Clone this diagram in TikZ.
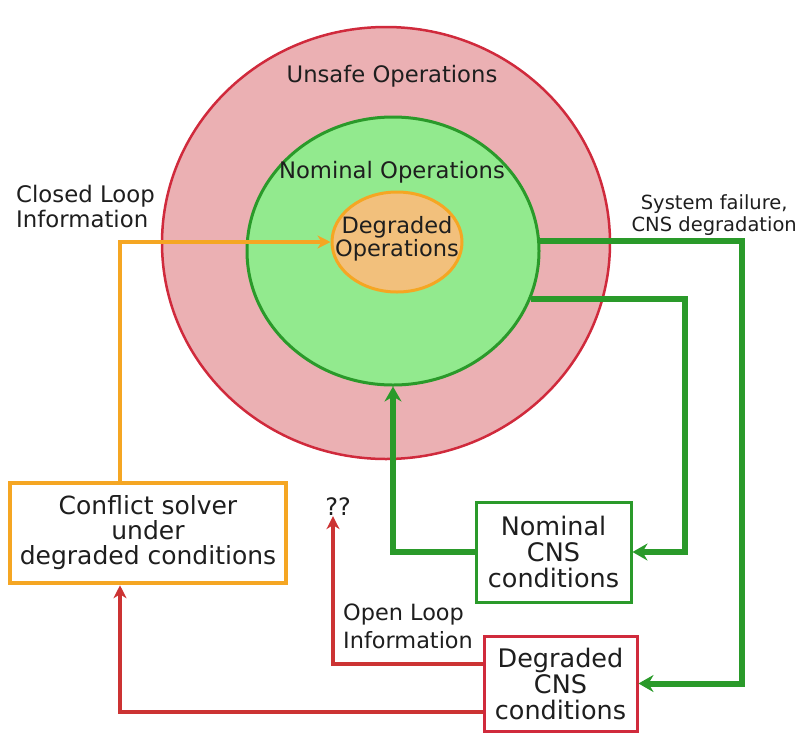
\documentclass[tikz,border=0pt]{standalone}
\usepackage{fontspec}
\setmainfont{DejaVu Sans}
\usetikzlibrary{arrows.meta,shapes.geometric}

\definecolor{unsafefill}{HTML}{EBB0B3}
\definecolor{unsafeline}{HTML}{D02A3C}
\definecolor{nomfill}{HTML}{92EA8E}
\definecolor{nomline}{HTML}{2A9A2A}
\definecolor{degfill}{HTML}{F2C07C}
\definecolor{degline}{HTML}{F5A623}
\definecolor{redflow}{HTML}{CC3333}
\definecolor{txt}{HTML}{1E1E1E}

\tikzset{
  zone/.style={ellipse, inner sep=0pt, text=txt},
  boxnode/.style={rectangle, inner sep=0pt, fill=white, text=txt, align=center},
  lbl/.style={inner sep=0pt, text=txt},
  greenflow/.style={-{Stealth[length=15pt,width=17pt,inset=5pt]}, draw=nomline, line width=6pt},
  orangeflow/.style={-{Stealth[length=13pt,width=13pt,inset=4pt]}, draw=degline, line width=4pt},
  redflowline/.style={-{Stealth[length=13pt,width=13pt,inset=4pt]}, draw=redflow, line width=4pt},
}

\begin{document}
\begin{tikzpicture}[x=1pt, y=-1pt]
\useasboundingbox (0,0) rectangle (797,737);

% nested operating regimes
\node[zone, draw=unsafeline, fill=unsafefill, line width=2.5pt,
      minimum width=448pt, minimum height=432pt] (unsafe) at (386,243) {};
\node[zone, draw=nomline, fill=nomfill, line width=3pt,
      minimum width=292pt, minimum height=268pt] (nominal) at (393,251) {};
\node[zone, draw=degline, fill=degfill, line width=3pt,
      minimum width=130pt, minimum height=100pt] (degop) at (397,242) {};
\node[lbl, align=center, font=\fontsize{22.5}{23}\selectfont] (degoplbl) at (397,239)
      {Degraded\\Operations};

\node[lbl, font=\fontsize{22.7}{26}\selectfont] (unsafelbl) at (392,76) {Unsafe Operations};
\node[lbl, font=\fontsize{22.7}{26}\selectfont] (nomlbl) at (392,172) {Nominal Operations};

% condition and solver boxes
\node[boxnode, draw=degline, line width=4.5pt, minimum width=276pt, minimum height=100pt,
      font=\fontsize{25}{25}\selectfont] (solver) at (148,533)
      {Conflict solver\\under\\degraded conditions};
\node[boxnode, draw=nomline, line width=3pt, minimum width=155pt, minimum height=100pt,
      font=\fontsize{25.5}{26}\selectfont] (nomcns) at (553.5,552)
      {Nominal\\CNS\\conditions};
\node[boxnode, draw=unsafeline, line width=3pt, minimum width=153pt, minimum height=95pt,
      font=\fontsize{25.5}{26}\selectfont] (degcns) at (560.5,683.5)
      {Degraded\\CNS\\conditions};

\node[lbl, font=\fontsize{24}{24}\selectfont] (qq) at (338,507) {??};

% side labels
\node[lbl, anchor=west, align=left, font=\fontsize{22.8}{25}\selectfont] (closedlbl) at (16,206)
      {Closed Loop\\Information};
\node[lbl, anchor=east, align=center, font=\fontsize{19.5}{22}\selectfont] (faillbl) at (797,215)
      {System failure,\\CNS degradation};
\node[lbl, anchor=west, align=left, font=\fontsize{22.4}{28}\selectfont] (openlbl) at (343,626)
      {Open Loop\\Information};

% information flows
\draw[greenflow] (nominal.4) -- ++(202,0) |- (degcns.east);
\draw[greenflow] (nominal.-19) -- ++(154,0) |- (nomcns.east);
\draw[greenflow] (nomcns.west) -| (nominal.south);
\draw[orangeflow] ([xshift=-28pt]solver.north) |- (degop.west);
\draw[redflowline] ([yshift=20pt]degcns.west) -| ([xshift=-5pt]qq.south);
\draw[redflowline] ([yshift=-28pt]degcns.west) -| ([xshift=-28pt]solver.south);
\end{tikzpicture}
\end{document}
